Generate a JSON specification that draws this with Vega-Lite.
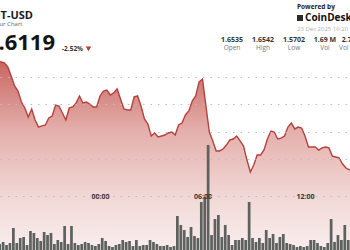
{
  "$schema": "https://vega.github.io/schema/vega-lite/v6.json",
  "width": 350,
  "height": 250,
  "autosize": {"type": "none"},
  "padding": 0,
  "background": "white",
  "config": {"view": {"stroke": null}, "font": "Open Sans"},
  "datasets": {
    "px": [
      {"t": "2025-12-22T18:00:00Z", "p": 1.6524, "v": 6},
      {"t": "2025-12-22T18:12:00Z", "p": 1.6509, "v": 8},
      {"t": "2025-12-22T18:24:00Z", "p": 1.6502, "v": 5},
      {"t": "2025-12-22T18:36:00Z", "p": 1.6473, "v": 7},
      {"t": "2025-12-22T18:48:00Z", "p": 1.6407, "v": 22},
      {"t": "2025-12-22T19:00:00Z", "p": 1.6335, "v": 7},
      {"t": "2025-12-22T19:12:00Z", "p": 1.6298, "v": 12},
      {"t": "2025-12-22T19:24:00Z", "p": 1.6218, "v": 13},
      {"t": "2025-12-22T19:36:00Z", "p": 1.6175, "v": 5},
      {"t": "2025-12-22T19:48:00Z", "p": 1.6109, "v": 19},
      {"t": "2025-12-22T20:00:00Z", "p": 1.6167, "v": 17},
      {"t": "2025-12-22T20:12:00Z", "p": 1.6087, "v": 12},
      {"t": "2025-12-22T20:24:00Z", "p": 1.6036, "v": 9},
      {"t": "2025-12-22T20:36:00Z", "p": 1.6044, "v": 18},
      {"t": "2025-12-22T20:48:00Z", "p": 1.6051, "v": 15},
      {"t": "2025-12-22T21:00:00Z", "p": 1.6102, "v": 17},
      {"t": "2025-12-22T21:12:00Z", "p": 1.6116, "v": 6},
      {"t": "2025-12-22T21:24:00Z", "p": 1.6196, "v": 10},
      {"t": "2025-12-22T21:36:00Z", "p": 1.6189, "v": 8},
      {"t": "2025-12-22T21:48:00Z", "p": 1.6138, "v": 24},
      {"t": "2025-12-22T22:00:00Z", "p": 1.6087, "v": 6},
      {"t": "2025-12-22T22:12:00Z", "p": 1.6175, "v": 24},
      {"t": "2025-12-22T22:24:00Z", "p": 1.6182, "v": 7},
      {"t": "2025-12-22T22:36:00Z", "p": 1.6211, "v": 5},
      {"t": "2025-12-22T22:48:00Z", "p": 1.6262, "v": 6},
      {"t": "2025-12-22T23:00:00Z", "p": 1.6211, "v": 8},
      {"t": "2025-12-22T23:12:00Z", "p": 1.6218, "v": 7},
      {"t": "2025-12-22T23:24:00Z", "p": 1.6204, "v": 5},
      {"t": "2025-12-22T23:36:00Z", "p": 1.6182, "v": 4},
      {"t": "2025-12-22T23:48:00Z", "p": 1.6182, "v": 6},
      {"t": "2025-12-23T00:00:00Z", "p": 1.6262, "v": 12},
      {"t": "2025-12-23T00:12:00Z", "p": 1.6298, "v": 9},
      {"t": "2025-12-23T00:24:00Z", "p": 1.6305, "v": 4},
      {"t": "2025-12-23T00:36:00Z", "p": 1.6269, "v": 3},
      {"t": "2025-12-23T00:48:00Z", "p": 1.6284, "v": 5},
      {"t": "2025-12-23T01:00:00Z", "p": 1.6313, "v": 6},
      {"t": "2025-12-23T01:12:00Z", "p": 1.6240, "v": 10},
      {"t": "2025-12-23T01:24:00Z", "p": 1.6167, "v": 8},
      {"t": "2025-12-23T01:36:00Z", "p": 1.6160, "v": 9},
      {"t": "2025-12-23T01:48:00Z", "p": 1.6160, "v": 4},
      {"t": "2025-12-23T02:00:00Z", "p": 1.6255, "v": 10},
      {"t": "2025-12-23T02:12:00Z", "p": 1.6262, "v": 4},
      {"t": "2025-12-23T02:24:00Z", "p": 1.6189, "v": 5},
      {"t": "2025-12-23T02:36:00Z", "p": 1.6095, "v": 5},
      {"t": "2025-12-23T02:48:00Z", "p": 1.6058, "v": 10},
      {"t": "2025-12-23T03:00:00Z", "p": 1.5971, "v": 8},
      {"t": "2025-12-23T03:12:00Z", "p": 1.5993, "v": 6},
      {"t": "2025-12-23T03:24:00Z", "p": 1.5964, "v": 4},
      {"t": "2025-12-23T03:36:00Z", "p": 1.5971, "v": 4},
      {"t": "2025-12-23T03:48:00Z", "p": 1.5978, "v": 5},
      {"t": "2025-12-23T04:00:00Z", "p": 1.5993, "v": 3},
      {"t": "2025-12-23T04:12:00Z", "p": 1.6000, "v": 4},
      {"t": "2025-12-23T04:24:00Z", "p": 1.5978, "v": 34},
      {"t": "2025-12-23T04:36:00Z", "p": 1.6051, "v": 25},
      {"t": "2025-12-23T04:48:00Z", "p": 1.6065, "v": 20},
      {"t": "2025-12-23T05:00:00Z", "p": 1.6124, "v": 13},
      {"t": "2025-12-23T05:12:00Z", "p": 1.6153, "v": 23},
      {"t": "2025-12-23T05:24:00Z", "p": 1.6225, "v": 14},
      {"t": "2025-12-23T05:36:00Z", "p": 1.6262, "v": 12},
      {"t": "2025-12-23T05:48:00Z", "p": 1.6364, "v": 48},
      {"t": "2025-12-23T06:00:00Z", "p": 1.6385, "v": 53},
      {"t": "2025-12-23T06:12:00Z", "p": 1.6189, "v": 105},
      {"t": "2025-12-23T06:24:00Z", "p": 1.6000, "v": 15},
      {"t": "2025-12-23T06:36:00Z", "p": 1.5935, "v": 31},
      {"t": "2025-12-23T06:48:00Z", "p": 1.5862, "v": 35},
      {"t": "2025-12-23T07:00:00Z", "p": 1.5862, "v": 13},
      {"t": "2025-12-23T07:12:00Z", "p": 1.5876, "v": 25},
      {"t": "2025-12-23T07:24:00Z", "p": 1.5905, "v": 15},
      {"t": "2025-12-23T07:36:00Z", "p": 1.5942, "v": 5},
      {"t": "2025-12-23T07:48:00Z", "p": 1.5949, "v": 10},
      {"t": "2025-12-23T08:00:00Z", "p": 1.5971, "v": 10},
      {"t": "2025-12-23T08:12:00Z", "p": 1.5935, "v": 12},
      {"t": "2025-12-23T08:24:00Z", "p": 1.5898, "v": 10},
      {"t": "2025-12-23T08:36:00Z", "p": 1.5796, "v": 48},
      {"t": "2025-12-23T08:48:00Z", "p": 1.5709, "v": 12},
      {"t": "2025-12-23T09:00:00Z", "p": 1.5760, "v": 8},
      {"t": "2025-12-23T09:12:00Z", "p": 1.5833, "v": 12},
      {"t": "2025-12-23T09:24:00Z", "p": 1.5833, "v": 7},
      {"t": "2025-12-23T09:36:00Z", "p": 1.5869, "v": 20},
      {"t": "2025-12-23T09:48:00Z", "p": 1.5949, "v": 12},
      {"t": "2025-12-23T10:00:00Z", "p": 1.6007, "v": 16},
      {"t": "2025-12-23T10:12:00Z", "p": 1.6000, "v": 7},
      {"t": "2025-12-23T10:24:00Z", "p": 1.5949, "v": 13},
      {"t": "2025-12-23T10:36:00Z", "p": 1.5956, "v": 16},
      {"t": "2025-12-23T10:48:00Z", "p": 1.5971, "v": 7},
      {"t": "2025-12-23T11:00:00Z", "p": 1.6036, "v": 6},
      {"t": "2025-12-23T11:12:00Z", "p": 1.6065, "v": 5},
      {"t": "2025-12-23T11:24:00Z", "p": 1.6022, "v": 3},
      {"t": "2025-12-23T11:36:00Z", "p": 1.6036, "v": 4},
      {"t": "2025-12-23T11:48:00Z", "p": 1.6029, "v": 3},
      {"t": "2025-12-23T12:00:00Z", "p": 1.5971, "v": 4},
      {"t": "2025-12-23T12:12:00Z", "p": 1.5891, "v": 10},
      {"t": "2025-12-23T12:24:00Z", "p": 1.5891, "v": 10},
      {"t": "2025-12-23T12:36:00Z", "p": 1.5891, "v": 7},
      {"t": "2025-12-23T12:48:00Z", "p": 1.5869, "v": 4},
      {"t": "2025-12-23T13:00:00Z", "p": 1.5884, "v": 3},
      {"t": "2025-12-23T13:12:00Z", "p": 1.5891, "v": 7},
      {"t": "2025-12-23T13:24:00Z", "p": 1.5884, "v": 31},
      {"t": "2025-12-23T13:36:00Z", "p": 1.5825, "v": 8},
      {"t": "2025-12-23T13:48:00Z", "p": 1.5818, "v": 15},
      {"t": "2025-12-23T14:00:00Z", "p": 1.5811, "v": 10},
      {"t": "2025-12-23T14:12:00Z", "p": 1.5767, "v": 25},
      {"t": "2025-12-23T14:24:00Z", "p": 1.5738, "v": 10},
      {"t": "2025-12-23T14:36:00Z", "p": 1.5724, "v": 8},
      {"t": "2025-12-23T14:48:00Z", "p": 1.5716, "v": 6}
    ]
  },
  "layer": [
    {
      "layer": [
        {
          "data": {"name": "px"},
          "mark": {"type": "area", "color": {"gradient": "linear", "x1": 0, "y1": 0, "x2": 0, "y2": 1, "stops": [{"offset": 0, "color": "#c8645f"}, {"offset": 0.37, "color": "#e4afab"}, {"offset": 0.74, "color": "#f2dad8"}, {"offset": 1, "color": "#f8eeed"}]}},
          "encoding": {
            "x": {"field": "t", "type": "temporal", "title": null,
              "scale": {"type": "utc", "domain": [{"year": 2025, "month": 12, "date": 22, "hours": 18, "minutes": 8, "seconds": 45, "utc": true}, {"year": 2025, "month": 12, "date": 23, "hours": 14, "minutes": 38, "seconds": 1, "utc": true}]},
              "axis": {"orient": "bottom", "offset": -54, "title": null, "ticks": false, "grid": false,
                "values": [{"year": 2025, "month": 12, "date": 22, "hours": 18, "utc": true}, {"year": 2025, "month": 12, "date": 23, "hours": 0, "utc": true}, {"year": 2025, "month": 12, "date": 23, "hours": 6, "utc": true}, {"year": 2025, "month": 12, "date": 23, "hours": 12, "utc": true}],
                "format": "%H:%M", "formatType": "utc", "labelExpr": "utcFormat(datum.value, '%H:%M')", "labelFlush": false, "labelBound": false, "labelOverlap": false,
                "labelBaseline": "middle", "labelPadding": 0, "labelFontSize": 7, "labelFontWeight": "bold", "labelColor": "#333333", "labelFont": "Open Sans",
                "domainColor": "#bbbbbb", "domainDash": [1.5, 6], "domainWidth": 1.2, "zindex": 1}},
            "y": {"field": "p", "type": "quantitative", "title": null,
              "scale": {"domain": [1.51418, 1.696], "zero": false, "nice": false},
              "axis": {"values": [1.58, 1.6, 1.62, 1.64], "grid": true, "labels": false, "ticks": false, "domain": false, "title": null, "gridColor": "#bdbdbd", "gridDash": [1.5, 6], "gridWidth": 1.2, "zindex": 1}},
            "y2": {"datum": 1.51418}
          }
        },
        {
          "data": {"name": "px"},
          "mark": {"type": "line", "color": "#b8403b", "strokeWidth": 1.4},
          "encoding": {
            "x": {"field": "t", "type": "temporal"},
            "y": {"field": "p", "type": "quantitative"}
          }
        },
        {
          "data": {"values": [{"s": "DOT-USD"}]},
          "mark": {"type": "text", "align": "right", "baseline": "alphabetic", "fontSize": 11, "fontWeight": "bold", "color": "#1a1a1a"},
          "encoding": {"text": {"field": "s"}, "x": {"datum": {"year": 2025, "month": 12, "date": 22, "hours": 20, "minutes": 4, "seconds": 39, "utc": true}, "type": "temporal"}, "y": {"datum": 1.6822}}
        },
        {
          "data": {"values": [{"s": "24 Hour Chart"}]},
          "mark": {"type": "text", "align": "right", "baseline": "alphabetic", "fontSize": 6, "color": "#666666"},
          "encoding": {"text": {"field": "s"}, "x": {"datum": {"year": 2025, "month": 12, "date": 22, "hours": 19, "minutes": 27, "seconds": 46, "utc": true}, "type": "temporal"}, "y": {"datum": 1.6769}}
        },
        {
          "data": {"values": [{"s": "1.6119"}]},
          "mark": {"type": "text", "align": "right", "baseline": "alphabetic", "fontSize": 22, "fontWeight": "bold", "color": "#141414"},
          "encoding": {"text": {"field": "s"}, "x": {"datum": {"year": 2025, "month": 12, "date": 22, "hours": 21, "minutes": 21, "seconds": 55, "utc": true}, "type": "temporal"}, "y": {"datum": 1.6596}}
        },
        {
          "data": {"values": [{"s": "-2.52%"}]},
          "mark": {"type": "text", "align": "left", "baseline": "alphabetic", "fontSize": 6.5, "fontWeight": "bold", "color": "#333333"},
          "encoding": {"text": {"field": "s"}, "x": {"datum": {"year": 2025, "month": 12, "date": 22, "hours": 21, "minutes": 46, "seconds": 31, "utc": true}, "type": "temporal"}, "y": {"datum": 1.6589}}
        },
        {
          "data": {"values": [{"d": "down"}]},
          "mark": {"type": "point", "shape": "triangle-down", "filled": true, "size": 30, "color": "#c0392b", "opacity": 1},
          "encoding": {"x": {"datum": {"year": 2025, "month": 12, "date": 22, "hours": 23, "minutes": 19, "seconds": 35, "utc": true}, "type": "temporal"}, "y": {"datum": 1.6604}}
        },
        {
          "data": {"values": [{"s": "Powered by"}]},
          "mark": {"type": "text", "align": "left", "baseline": "alphabetic", "fontSize": 6.5, "fontWeight": "bold", "color": "#222222"},
          "encoding": {"text": {"field": "s"}, "x": {"datum": {"year": 2025, "month": 12, "date": 23, "hours": 11, "minutes": 31, "seconds": 52, "utc": true}, "type": "temporal"}, "y": {"datum": 1.6898}}
        },
        {
          "data": {"values": [{"s": "logo"}]},
          "mark": {"type": "point", "shape": "square", "filled": true, "size": 36, "color": "#2a2a2a", "opacity": 1},
          "encoding": {"x": {"datum": {"year": 2025, "month": 12, "date": 23, "hours": 11, "minutes": 42, "seconds": 25, "utc": true}, "type": "temporal"}, "y": {"datum": 1.6829}}
        },
        {
          "data": {"values": [{"s": "CoinDesk Indices"}]},
          "mark": {"type": "text", "align": "left", "baseline": "alphabetic", "fontSize": 10, "fontWeight": "bold", "color": "#111111"},
          "encoding": {"text": {"field": "s"}, "x": {"datum": {"year": 2025, "month": 12, "date": 23, "hours": 12, "minutes": 0, "seconds": 0, "utc": true}, "type": "temporal"}, "y": {"datum": 1.6804}}
        },
        {
          "data": {"values": [{"s": "23 Dec 2025 16:20"}]},
          "mark": {"type": "text", "align": "left", "baseline": "alphabetic", "fontSize": 6, "color": "#b0b0b0"},
          "encoding": {"text": {"field": "s"}, "x": {"datum": {"year": 2025, "month": 12, "date": 23, "hours": 11, "minutes": 31, "seconds": 52, "utc": true}, "type": "temporal"}, "y": {"datum": 1.6738}}
        },
        {
          "data": {"values": [{"k": "Open", "v": "1.6535"}]},
          "encoding": {"x": {"datum": {"year": 2025, "month": 12, "date": 23, "hours": 7, "minutes": 43, "seconds": 35, "utc": true}, "type": "temporal"}},
          "layer": [
            {"mark": {"type": "text", "baseline": "alphabetic", "fontSize": 7, "fontWeight": "bold", "color": "#333333"}, "encoding": {"text": {"field": "v"}, "y": {"datum": 1.6655}}},
            {"mark": {"type": "text", "baseline": "alphabetic", "fontSize": 6.5, "color": "#777777"}, "encoding": {"text": {"field": "k"}, "y": {"datum": 1.6593}}}
          ]
        },
        {
          "data": {"values": [{"k": "High", "v": "1.6542"}]},
          "encoding": {"x": {"datum": {"year": 2025, "month": 12, "date": 23, "hours": 9, "minutes": 32, "seconds": 28, "utc": true}, "type": "temporal"}},
          "layer": [
            {"mark": {"type": "text", "baseline": "alphabetic", "fontSize": 7, "fontWeight": "bold", "color": "#333333"}, "encoding": {"text": {"field": "v"}, "y": {"datum": 1.6655}}},
            {"mark": {"type": "text", "baseline": "alphabetic", "fontSize": 6.5, "color": "#777777"}, "encoding": {"text": {"field": "k"}, "y": {"datum": 1.6593}}}
          ]
        },
        {
          "data": {"values": [{"k": "Low", "v": "1.5702"}]},
          "encoding": {"x": {"datum": {"year": 2025, "month": 12, "date": 23, "hours": 11, "minutes": 21, "seconds": 20, "utc": true}, "type": "temporal"}},
          "layer": [
            {"mark": {"type": "text", "baseline": "alphabetic", "fontSize": 7, "fontWeight": "bold", "color": "#333333"}, "encoding": {"text": {"field": "v"}, "y": {"datum": 1.6655}}},
            {"mark": {"type": "text", "baseline": "alphabetic", "fontSize": 6.5, "color": "#777777"}, "encoding": {"text": {"field": "k"}, "y": {"datum": 1.6593}}}
          ]
        },
        {
          "data": {"values": [{"k": "Vol", "v": "1.69 M"}]},
          "encoding": {"x": {"datum": {"year": 2025, "month": 12, "date": 23, "hours": 13, "minutes": 10, "seconds": 13, "utc": true}, "type": "temporal"}},
          "layer": [
            {"mark": {"type": "text", "baseline": "alphabetic", "fontSize": 7, "fontWeight": "bold", "color": "#333333"}, "encoding": {"text": {"field": "v"}, "y": {"datum": 1.6655}}},
            {"mark": {"type": "text", "baseline": "alphabetic", "fontSize": 6.5, "color": "#777777"}, "encoding": {"text": {"field": "k"}, "y": {"datum": 1.6593}}}
          ]
        },
        {
          "data": {"values": [{"k": "Vol (USD)", "v": "2.72 M"}]},
          "encoding": {"x": {"datum": {"year": 2025, "month": 12, "date": 23, "hours": 14, "minutes": 48, "seconds": 33, "utc": true}, "type": "temporal"}},
          "layer": [
            {"mark": {"type": "text", "baseline": "alphabetic", "fontSize": 7, "fontWeight": "bold", "color": "#333333"}, "encoding": {"text": {"field": "v"}, "y": {"datum": 1.6655}}},
            {"mark": {"type": "text", "baseline": "alphabetic", "fontSize": 6.5, "color": "#777777"}, "encoding": {"text": {"field": "k"}, "y": {"datum": 1.6593}}}
          ]
        }
      ]
    },
    {
      "data": {"name": "px"},
      "mark": {"type": "bar", "color": "#5d615f", "binSpacing": 0.7},
      "encoding": {
        "x": {"field": "t", "type": "temporal", "timeUnit": {"unit": "utcyearmonthdatehoursminutes", "step": 12},
          "scale": {"type": "utc", "domain": [{"year": 2025, "month": 12, "date": 22, "hours": 18, "minutes": 8, "seconds": 45, "utc": true}, {"year": 2025, "month": 12, "date": 23, "hours": 14, "minutes": 38, "seconds": 1, "utc": true}]},
          "axis": {"orient": "bottom", "offset": -54, "title": null, "ticks": false, "grid": false,
            "values": [{"year": 2025, "month": 12, "date": 22, "hours": 18, "utc": true}, {"year": 2025, "month": 12, "date": 23, "hours": 0, "utc": true}, {"year": 2025, "month": 12, "date": 23, "hours": 6, "utc": true}, {"year": 2025, "month": 12, "date": 23, "hours": 12, "utc": true}],
            "format": "%H:%M", "formatType": "utc", "labelExpr": "utcFormat(datum.value, '%H:%M')", "labelFlush": false, "labelBound": false, "labelOverlap": false,
            "labelBaseline": "middle", "labelPadding": 0, "labelFontSize": 7, "labelFontWeight": "bold", "labelColor": "#333333", "labelFont": "Open Sans",
            "domainColor": "#bbbbbb", "domainDash": [1.5, 6], "domainWidth": 1.2, "zindex": 1}},
        "y": {"field": "v", "type": "quantitative", "scale": {"domain": [0, 250], "nice": false}, "axis": null}
      }
    }
  ],
  "resolve": {"scale": {"y": "independent"}}
}
